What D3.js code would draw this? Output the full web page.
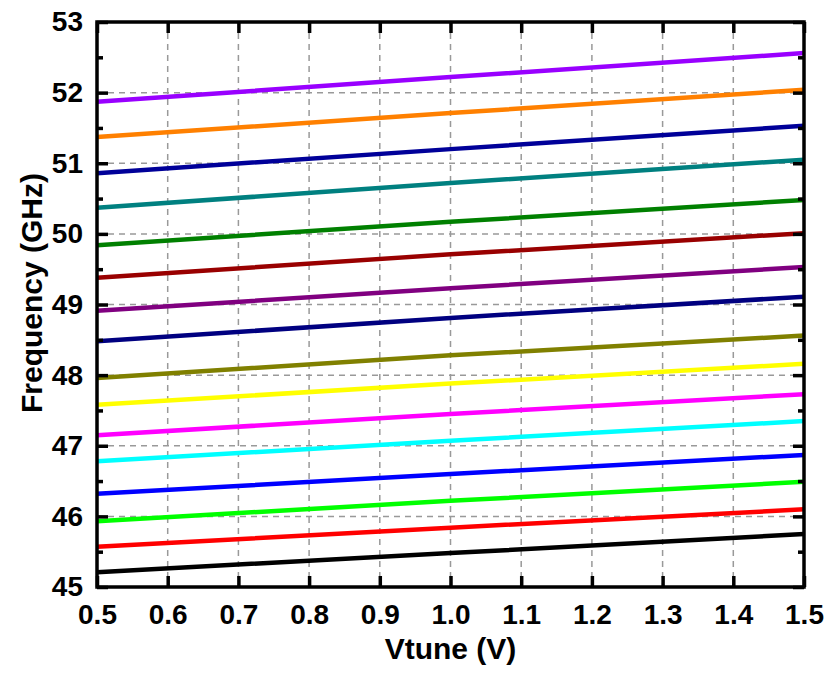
<!DOCTYPE html>
<html><head><meta charset="utf-8">
<script src="https://cdn.jsdelivr.net/npm/d3@7"></script>
<style>body{margin:0;background:#fff}svg{display:block}text{font-family:"Liberation Sans",Arial,sans-serif;font-weight:bold;fill:#000}</style>
</head><body><svg id="c" width="829" height="684"></svg>
<script>
const vtune = [0.5, 1.0, 1.5];
const colors = ["#000000","#ff0000","#00ff00","#0000ff","#00ffff","#ff00ff","#ffff00","#808000","#000080","#800080","#990000","#008000","#008080","#000099","#ff8000","#9900ff"];
const s01 = [45.21, 45.48, 45.75];
const s02 = [45.57, 45.84, 46.10];
const s03 = [45.93, 46.22, 46.49];
const s04 = [46.32, 46.60, 46.87];
const s05 = [46.78, 47.07, 47.35];
const s06 = [47.15, 47.45, 47.73];
const s07 = [47.58, 47.88, 48.16];
const s08 = [47.96, 48.28, 48.56];
const s09 = [48.48, 48.81, 49.11];
const s10 = [48.91, 49.23, 49.53];
const s11 = [49.38, 49.71, 50.01];
const s12 = [49.84, 50.17, 50.48];
const s13 = [50.37, 50.72, 51.05];
const s14 = [50.86, 51.20, 51.53];
const s15 = [51.37, 51.71, 52.04];
const s16 = [51.87, 52.22, 52.56];
const series = [s01,s02,s03,s04,s05,s06,s07,s08,s09,s10,s11,s12,s13,s14,s15,s16];
const xTicks = [0.5,0.6,0.7,0.8,0.9,1.0,1.1,1.2,1.3,1.4,1.5];
const yTicks = [45,46,47,48,49,50,51,52,53];
const yMinor = [45.5,46.5,47.5,48.5,49.5,50.5,51.5,52.5];

(function(){
const L=97,R=804,T=22,B=587;
const svg=d3.select("#c");
const x=d3.scaleLinear().domain([0.5,1.5]).range([L,R]);
const y=d3.scaleLinear().domain([45,53]).range([B,T]);

// grid
const g=svg.append("g").attr("stroke","#999").attr("stroke-width",1.5).attr("stroke-dasharray","6,5");
g.selectAll(".gx").data(xTicks.slice(1,-1)).enter().append("line")
 .attr("x1",d=>x(d)).attr("x2",d=>x(d)).attr("y1",T).attr("y2",B);
g.selectAll(".gy").data(yTicks.slice(1,-1)).enter().append("line")
 .attr("y1",d=>y(d)).attr("y2",d=>y(d)).attr("x1",L).attr("x2",R);

// lines
const line=d3.line().x((d,i)=>x(vtune[i])).y(d=>y(d));
svg.append("g").selectAll("path").data(series).enter().append("path")
 .attr("d",line).attr("fill","none").attr("stroke",(d,i)=>colors[i]).attr("stroke-width",4.5);

// axes (ticks inward)
const fmtX=d3.format(".1f");
const ax=svg.append("g");
ax.append("g").attr("transform",`translate(0,${B})`)
 .call(d3.axisBottom(x).tickValues(xTicks).tickSizeInner(-11).tickSizeOuter(0).tickPadding(17).tickFormat(fmtX));
ax.append("g").attr("transform",`translate(0,${T})`)
 .call(d3.axisTop(x).tickValues(xTicks).tickSizeInner(-11).tickSizeOuter(0).tickFormat(""));
ax.append("g").attr("transform",`translate(${L},0)`)
 .call(d3.axisLeft(y).tickValues(yTicks).tickSizeInner(-11).tickSizeOuter(0).tickPadding(14).tickFormat(d3.format("d")));
ax.append("g").attr("transform",`translate(${R},0)`)
 .call(d3.axisRight(y).tickValues(yTicks).tickSizeInner(-11).tickSizeOuter(0).tickFormat(""));
ax.append("g").attr("transform",`translate(${L},0)`)
 .call(d3.axisLeft(y).tickValues(yMinor).tickSizeInner(-6).tickSizeOuter(0).tickFormat(""));
ax.append("g").attr("transform",`translate(${R},0)`)
 .call(d3.axisRight(y).tickValues(yMinor).tickSizeInner(-6).tickSizeOuter(0).tickFormat(""));
ax.selectAll(".domain").remove();
ax.selectAll(".tick line").attr("stroke","#000").attr("stroke-width",3.5);
ax.selectAll(".tick text").style("font-size","28px").style("font-family","'Liberation Sans',Arial,sans-serif").style("font-weight","bold").attr("fill","#000");

// frame
svg.append("rect").attr("x",L).attr("y",T).attr("width",R-L).attr("height",B-T)
 .attr("fill","none").attr("stroke","#000").attr("stroke-width",3.5);

// titles
svg.append("text").attr("x",(L+R)/2).attr("y",659).attr("text-anchor","middle")
 .style("font-size","30px").text("Vtune (V)");
svg.append("text").attr("transform","translate(42,293) rotate(-90)").attr("text-anchor","middle")
 .style("font-size","30px").text("Frequency (GHz)");
})();
</script></body></html>
